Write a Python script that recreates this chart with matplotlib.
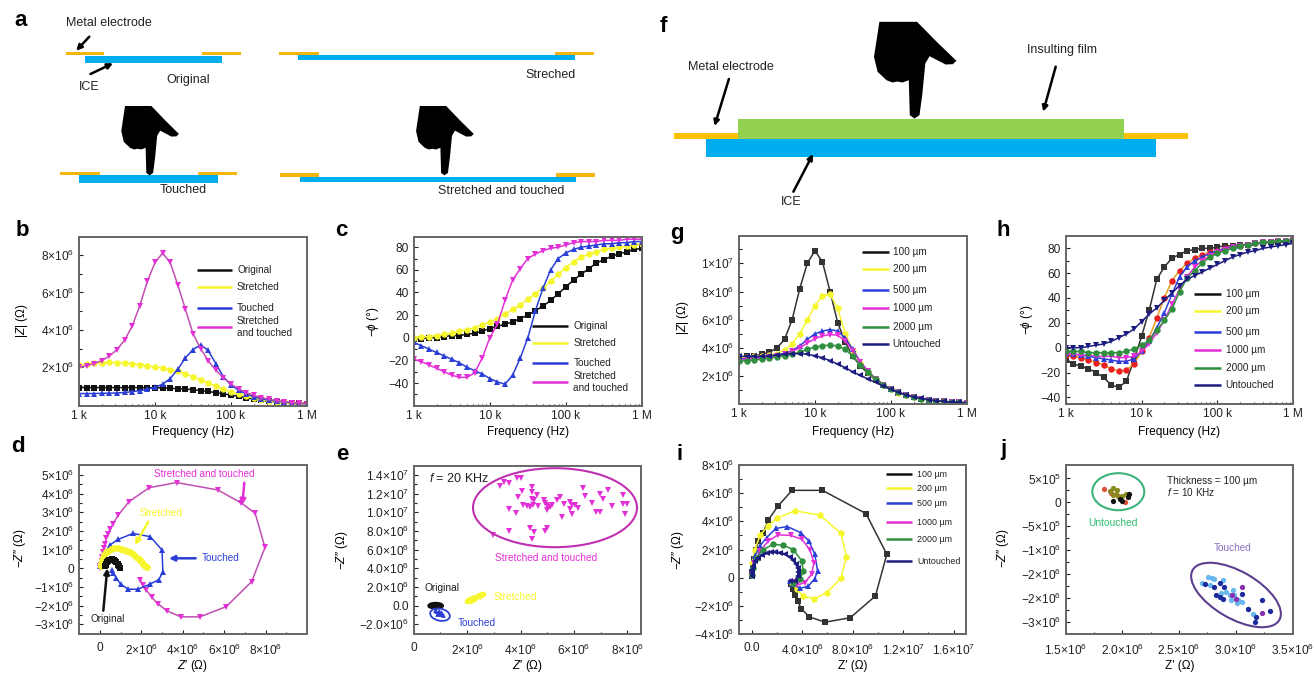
import matplotlib
matplotlib.use('Agg')
import matplotlib.pyplot as plt
from matplotlib.patches import Rectangle, Ellipse, Polygon

plt.rcParams['font.family'] = ['Liberation Sans', 'DejaVu Sans']
plt.rcParams['mathtext.fontset'] = 'custom'
plt.rcParams['mathtext.rm'] = 'Liberation Sans'
plt.rcParams['mathtext.it'] = 'Liberation Sans:italic'
plt.rcParams['mathtext.bf'] = 'Liberation Sans:bold'
plt.rcParams['mathtext.fallback'] = 'cm'

W, H = 1314, 673
BLACK, YELLOW, BLUE, MAGENTA, GREEN, NAVY = '#111111', '#f6f62e', '#2b3fd6', '#e32fd6', '#2f8f3f', '#1c1c80'
ORANGE, CYAN, SKY, FILM = '#f5b50f', '#00aeef', '#66b8ee', '#92d050'

freq = [1000, 1259, 1585, 1995, 2512, 3162, 3981, 5012, 6310, 7943, 10000, 12589, 15849, 19953, 25119, 31623,
        39811, 50119, 63096, 79433, 100000, 125893, 158489, 199526, 251189, 316228, 398107, 501187, 630957, 794328, 1000000]

# panel b: |Z| in units of 1e6 ohm
b_original = [.92,.92,.92,.92,.92,.92,.92,.92,.92,.91,.91,.90,.88,.86,.84,.80,.76,.71,.65,.58,.52,.45,.37,.30,.24,.19,.15,.12,.09,.07,.05]
b_stretched = [2.12,2.17,2.22,2.25,2.26,2.25,2.23,2.20,2.15,2.08,2.02,1.96,1.88,1.78,1.65,1.50,1.33,1.17,1.00,.84,.70,.57,.45,.36,.28,.22,.17,.13,.10,.08,.06]
b_touched = [.6,.6,.6,.61,.62,.63,.66,.70,.76,.83,.93,1.10,1.40,1.9,2.5,2.95,3.2,2.9,2.2,1.5,1.05,.78,.58,.43,.32,.25,.19,.15,.11,.08,.06]
b_both = [2.0,2.08,2.2,2.36,2.6,2.95,3.45,4.2,5.3,6.6,7.6,8.1,7.6,6.4,5.1,3.8,3.0,2.35,1.85,1.45,1.1,.85,.65,.5,.38,.29,.22,.16,.12,.09,.06]

# panel c: -phase in degrees
c_original = [-1,-1,0,0,1,2,2,3,4,6,8,10,12,14,17,20,24,28,33,39,45,51,56,61,66,69,72,74,76,78,79]
c_stretched = [0,1,1,2,3,4,6,7,9,11,14,17,21,25,29,34,39,44,50,56,62,67,71,74,76,78,79,80,81,82,83]
c_touched = [-4,-7,-10,-13,-16,-19,-22,-26,-29,-32,-36,-39,-41,-33,-18,0,24,44,60,70,75,78,80,81,82,83,83,84,84,85,85]
c_both = [-19,-21,-24,-27,-30,-33,-35,-35,-31,-18,0,12,33,51,61,70,74,77,79,80,82,84,85,85,85,86,86,86,87,87,87]

# panel g: |Z| in units of 1e6 ohm
g_100 = [3.35,3.4,3.45,3.55,3.7,4.0,4.6,6.0,8.2,10.0,10.9,10.1,8.0,5.8,4.4,3.4,2.7,2.2,1.7,1.35,1.05,.82,.65,.5,.4,.32,.25,.2,.16,.13,.1]
g_200 = [3.3,3.35,3.4,3.45,3.5,3.6,3.85,4.3,5.0,6.0,7.0,7.7,7.8,6.8,5.0,3.8,2.9,2.3,1.75,1.38,1.07,.83,.66,.51,.4,.32,.25,.2,.16,.13,.1]
g_500 = [3.2,3.25,3.3,3.35,3.4,3.5,3.6,3.8,4.15,4.6,5.0,5.2,5.3,5.2,4.7,3.9,3.0,2.35,1.8,1.4,1.08,.84,.66,.52,.41,.32,.25,.2,.16,.13,.1]
g_1000 = [3.15,3.2,3.25,3.3,3.35,3.45,3.55,3.75,4.0,4.35,4.65,4.85,4.95,4.9,4.5,3.8,3.0,2.35,1.8,1.4,1.08,.84,.66,.52,.41,.32,.25,.2,.16,.13,.1]
g_2000 = [3.05,3.1,3.15,3.2,3.3,3.35,3.45,3.55,3.7,3.9,4.05,4.15,4.2,4.15,3.9,3.4,2.8,2.3,1.8,1.4,1.08,.84,.66,.52,.41,.32,.25,.2,.16,.13,.1]
g_untouched = [3.4,3.4,3.4,3.4,3.45,3.5,3.55,3.6,3.6,3.55,3.45,3.3,3.1,2.85,2.6,2.3,2.05,1.8,1.55,1.3,1.05,.85,.68,.53,.42,.33,.26,.2,.16,.13,.1]

# panel h: -phase in degrees
h_100 = [-10,-13,-15,-17,-20,-24,-30,-32,-27,-10,9,30,55,65,72,75,78,79,80,80,81,82,82,83,83,84,84,85,85,85,86]
h_200 = [-6,-7,-8,-10,-12,-14,-17,-19,-18,-13,-3,8,24,40,54,62,68,72,75,77,78,80,81,82,83,84,85,85,86,86,87]
h_500 = [-4,-5,-6,-7,-8,-9,-10,-11,-11,-9,-3,5,16,28,43,57,65,70,73,76,78,80,81,82,83,84,85,85,86,86,87]
h_1000 = [-5,-5,-6,-6,-7,-7,-7,-8,-8,-7,-3,3,12,22,35,47,57,65,70,74,77,79,81,82,83,84,85,85,86,86,87]
h_2000 = [-3,-3,-3,-4,-4,-4,-4,-4,-3,-1,2,6,14,22,31,45,56,62,68,73,76,78,80,82,83,84,85,85,86,86,87]
h_untouched = [0,0,0,1,2,3,5,8,11,15,21,27,32,38,44,50,55,58,61,64,67,70,73,75,77,78,80,81,82,83,84]

# panel d: Nyquist, units of 1e6 ohm
d_both_x = [0,.02,.05,.08,.1,.15,.2,.25,.3,.38,.5,.64,.88,1.4,2.37,3.7,5.7,6.83,7.5,7.97,7.33,6.1,4.83,3.9,3.23,2.8,2.5,2.24,2.08,1.95]
d_both_y = [0,.1,.2,.4,.6,.9,1.1,1.3,1.6,1.85,2.1,2.4,2.85,3.57,4.32,4.6,4.2,3.5,2.95,1.12,-.71,-2.05,-2.6,-2.6,-2.27,-1.9,-1.55,-1.16,-.9,-.62]
d_touched_x = [.02,.08,.16,.29,.48,.88,1.6,2.43,3,3.04,2.85,2.43,1.84,1.36,1,.8,.64,.56]
d_touched_y = [.1,.35,.62,.9,1.25,1.55,1.87,1.7,.98,-.18,-.6,-.84,-1.12,-1.12,-.84,-.54,-.23,-.1]
d_stretched_x = [.05,.07,.1,.15,.2,.3,.4,.55,.7,.85,1,1.15,1.3,1.45,1.6,1.75,1.9,2.0,2.1,2.18,2.25]
d_stretched_y = [.1,.25,.4,.55,.7,.85,.95,1.03,1.08,1.08,1.05,1.01,.95,.86,.75,.63,.5,.38,.25,.15,.05]
d_original_x = [.25,.27,.3,.34,.38,.44,.5,.56,.62,.68,.75,.8,.85,.89,.93,.97]
d_original_y = [.1,.17,.25,.32,.38,.43,.47,.48,.47,.43,.38,.32,.25,.17,.1,0]

# panel i: Nyquist, units of 1e6 ohm
i_100_x = [0,.03,.1,.2,.35,.53,.92,1.32,2.1,3.2,5.6,9.05,10.7,9.8,7.8,5.8,4.56,3.93,3.64,3.43,3.25,3.1]
i_100_y = [.1,.4,.8,1.3,2.0,2.6,3.2,4.1,5.1,6.2,6.2,4.55,1.66,-1.3,-2.85,-3.16,-2.78,-2.2,-1.66,-1.2,-.83,-.47]
i_200_x = [0,.05,.26,.66,1.32,2.03,3.43,5.4,7.07,7.5,7.07,5.94,4.96,4.1,3.56,3.17]
i_200_y = [.2,1.07,2,3,3.7,4.23,4.75,4.44,3.16,1.5,-.05,-1.07,-1.5,-1.3,-.83,-.35]
i_500_x = [0,.05,.26,.66,1.19,1.93,2.82,3.88,4.54,5.0,5.22,5,4.49,3.83,3.3,3.03]
i_500_y = [.2,.7,1.54,2.25,2.85,3.5,3.63,3.2,2.6,1.66,.47,-.07,-.6,-.76,-.47,-.24]
i_1000_x = [0,.2,.66,1.32,2.1,3.09,3.96,4.6,4.93,4.75,4.2,3.6,3.17]
i_1000_y = [.2,1.07,1.9,2.6,3.04,3.0,2.73,2,1.07,.24,-.36,-.52,-.3]
i_2000_x = [0,.08,.4,.92,1.7,2.5,3.3,3.96,4.1,3.83,3.3]
i_2000_y = [.2,.7,1.43,2,2.37,2.3,2,1.2,.47,-.12,-.36]
i_untouched_x = [0,.02,.05,.13,.3,.53,.85,1.19,1.5,1.85,2.25,2.64,3.0,3.25,3.5,3.64,3.7,3.65,3.43,3.03]
i_untouched_y = [.1,.3,.55,.83,1.15,1.43,1.6,1.73,1.8,1.83,1.78,1.66,1.48,1.26,1,.71,.4,.12,-.24,-.24]

# panel e: scatter, units of 1e6 ohm
e_both_x = [3.23,3.38,3.55,3.88,4.01,4.07,3.92,4.42,4.44,4.61,4.42,4.51,4.11,4.23,4.36,4.48,4.67,4.86,4.92,4.98,5.04,4.98,5.11,5.17,5.36,5.48,5.61,5.86,5.92,6.04,6.17,6.35,6.42,6.69,6.98,7.10,7.29,7.42,7.83,7.85,7.98,7.92,6.98,6.83,5.86,5.92,5.57,3.55,3.82,3.55,4.36,4.51,4.42,4.92,4.98,2.98]
e_both_y = [12.86,13.21,13.11,13.64,13.71,12.29,11.68,12.68,12.14,11.86,11.39,11.32,10.79,10.68,10.61,10.79,10.68,11.32,10.96,10.79,10.61,10.25,10.61,10.79,11.32,11.61,10.86,11.14,10.79,10.79,10.5,12.64,11.79,10.96,11.96,11.39,12.39,10.68,11.86,10.86,10.89,9.82,10.07,10.07,10.32,9.82,9.54,10.36,9.89,8.04,8.36,7.93,7.18,8.04,8.29,7.57]
e_stretched_x = [2.0,2.05,2.1,2.12,2.18,2.2,2.25,2.3,2.35,2.4,2.45,2.5,2.55,2.58]
e_stretched_y = [.5,.6,.55,.7,.65,.8,.75,.9,.95,1.0,1.1,1.05,1.25,1.3]
e_original_x = [.6,.65,.7,.75,.8,.85,.9,.95,1.0]
e_original_y = [0,.05,.05,0,.05,0,.05,0,.05]
e_touched_x = [.8,.85,.9,.95,1.0,1.05,1.1,.88,.95,1.02]
e_touched_y = [-.5,-.6,-.7,-.8,-.85,-.95,-1.05,-.85,-.55,-.7]

# panel j: scatter, units of 1e6 ohm
j_un_red_x = [1.84,2.02,1.90,1.96]
j_un_red_y = [.27,0,.2,.14]
j_un_olive_x = [1.92,1.89,1.92,1.94,1.97,2.0,2.03,2.05,1.95]
j_un_olive_y = [.31,.23,.15,.18,.11,.14,.18,.14,.25]
j_un_black_x = [1.92,2.0,2.06,2.05,1.98]
j_un_black_y = [.02,.02,.17,.11,.06]
j_to_sky_x = [2.70,2.76,2.79,2.81,2.77,2.89,2.87,2.92,2.95,2.98,2.99,3.02,3.06,3.11,3.15,2.96,3.01]
j_to_sky_y = [-1.68,-1.56,-1.57,-1.61,-1.73,-1.63,-1.90,-1.87,-1.94,-1.83,-1.94,-2.04,-2.08,-2.22,-2.33,-2.04,-2.11]
j_to_navy_x = [2.73,2.81,2.83,2.86,2.90,2.86,3.06,3.11,3.18,3.17,3.23,3.30,2.89]
j_to_navy_y = [-1.71,-1.76,-1.94,-1.69,-1.76,-1.97,-1.92,-2.22,-2.39,-2.49,-2.03,-2.28,-2.01]
j_to_purple_x = [3.06,3.23,2.97,3.0]
j_to_purple_y = [-1.76,-2.32,-1.94,-2.02]

fig = plt.figure(figsize=(W / 100, H / 100), dpi=100)
FS = 8.6


def make_ax(left, right, top, bottom):
    ax = fig.add_axes([left / W, 1 - bottom / H, (right - left) / W, (bottom - top) / H])
    for s in ax.spines.values():
        s.set_color('#666666')
        s.set_linewidth(1.4)
    ax.tick_params(which='both', direction='in', colors='#222222', labelsize=FS, top=False, right=False, width=.8)
    ax.tick_params(which='major', length=3)
    ax.tick_params(which='minor', length=1.8)
    ax._box = (left, right, top, bottom)
    return ax


def labels(ax, xlabel, ylabel, xpx, ypx, label_y):
    l, r, t, b = ax._box
    ax.set_xlabel(xlabel, fontsize=FS, va='center')
    ax.set_ylabel(ylabel, fontsize=FS, va='center')
    ax.xaxis.set_label_coords(.5, (b - label_y) / (b - t))
    ax.yaxis.set_label_coords((xpx - l) / (r - l), (b - ypx) / (b - t))


def freq_ax(box, ylim, yticks, yticklabels, yminor, ylabel, xpx, ypx):
    ax = make_ax(*box)
    ax.set_xscale('log')
    ax.set_xlim(1e3, 1e6)
    ax.set_xticks([1e3, 1e4, 1e5, 1e6], ['1 k', '10 k', '100 k', '1 M'])
    ax.set_ylim(*ylim)
    ax.set_yticks(yticks, yticklabels)
    ax.set_yticks(yminor, minor=True)
    ax.tick_params(axis='x', pad=3)
    labels(ax, 'Frequency (Hz)', ylabel, xpx, ypx, 431.7)
    return ax


def curve(ax, x, y, color, marker, mcolor=None, lw=1.1, ms=4.6):
    ax.plot(x, y, color=color, lw=lw, marker=marker, ms=ms, mfc=mcolor or color, mec=mcolor or color, mew=0)


SUP = '×10$^{%d}$'
E6 = lambda v: f'{v}' + SUP % 6
ZX, ZY = '$\\mathit{Z}$′ (Ω)', '−$\\mathit{Z}$″ (Ω)'

# b
ax = freq_ax((79, 307, 237, 405.7), (-.05, 8.96), [2, 4, 6, 8], [E6(v) for v in (2, 4, 6, 8)], [1, 3, 5, 7],
             '|$\\mathit{Z}$| (Ω)', 22, 321)
curve(ax, freq, b_original, BLACK, 's')
curve(ax, freq, b_stretched, YELLOW, 'o')
curve(ax, freq, b_touched, BLUE, '^')
curve(ax, freq, b_both, '#c04fb0', 'v', MAGENTA)

# c
ax = freq_ax((413.7, 642, 237, 405.7), (-60, 89), [-40, -20, 0, 20, 40, 60, 80],
             ['−40', '−20', '0', '20', '40', '60', '80'], [-50, -30, -10, 10, 30, 50, 70], '$-\\phi$ (°)', 373, 322)
curve(ax, freq, c_original, BLACK, 's')
curve(ax, freq, c_stretched, YELLOW, 'o')
curve(ax, freq, c_touched, BLUE, '^')
curve(ax, freq, c_both, MAGENTA, 'v')

# g
ax = freq_ax((739, 966.7, 236, 404.3), (0, 11.94), [2, 4, 6, 8, 10], [E6(2), E6(4), E6(6), E6(8), '1' + SUP % 7],
             [1, 3, 5, 7, 9, 11], '|$\\mathit{Z}$| (Ω)', 683, 318)
curve(ax, freq, g_100, '#333333', 's')
curve(ax, freq, g_200, YELLOW, 'o')
curve(ax, freq, g_500, BLUE, '^')
curve(ax, freq, g_1000, MAGENTA, 'v')
curve(ax, freq, g_2000, GREEN, 'o')
curve(ax, freq, g_untouched, NAVY, '<')

# h
ax = freq_ax((1065.7, 1293.3, 236, 404.3), (-45.6, 89.9), [-40, -20, 0, 20, 40, 60, 80],
             ['−40', '−20', '0', '20', '40', '60', '80'], [-30, -10, 10, 30, 50, 70], '$-\\phi$ (°)', 1026.7, 320)
curve(ax, freq, h_100, '#333333', 's')
curve(ax, freq, h_200, '#e8a020', 'o', '#e82020')
curve(ax, freq, h_500, BLUE, '^')
curve(ax, freq, h_1000, MAGENTA, 'v')
curve(ax, freq, h_2000, GREEN, 'o')
curve(ax, freq, h_untouched, NAVY, 'v')

# d
ax = make_ax(79, 307, 465, 634)
ax.set_xlim(-1.01, 10)
ax.set_ylim(-3.52, 5.54)
ax.set_xticks([0, 2, 4, 6, 8], ['0'] + [E6(v) for v in (2, 4, 6, 8)])
ax.set_xticks([1, 3, 5, 7, 9], minor=True)
ax.set_yticks(range(-3, 6), ['−%d' % -v + SUP % 6 for v in (-3, -2, -1)] + ['0'] + [E6(v) for v in range(1, 6)])
ax.set_yticks([v + .5 for v in range(-3, 5)], minor=True)
ax.tick_params(axis='x', pad=6)
labels(ax, ZX, ZY, 20, 548, 666)
curve(ax, d_both_x, d_both_y, '#c04fb0', 'v', MAGENTA)
curve(ax, d_touched_x, d_touched_y, BLUE, '^')
curve(ax, d_stretched_x, d_stretched_y, YELLOW, 'o', lw=1.5, ms=5)
curve(ax, d_original_x, d_original_y, BLACK, 's', lw=1.5, ms=4.5)

# e
ax = make_ax(413.7, 641, 466, 634)
ax.set_xlim(0, 8.51)
ax.set_ylim(-3.04, 14.965)
ax.set_xticks([0, 2, 4, 6, 8], ['0'] + [E6(v) for v in (2, 4, 6, 8)])
ax.set_xticks([1, 3, 5, 7], minor=True)
ax.set_yticks([-2, 0, 2, 4, 6, 8, 10, 12, 14],
              ['−2.0' + SUP % 6, '0.0', '2.0' + SUP % 6, '4.0' + SUP % 6, '6.0' + SUP % 6, '8.0' + SUP % 6,
               '1.0' + SUP % 7, '1.2' + SUP % 7, '1.4' + SUP % 7])
ax.set_yticks([-1, 1, 3, 5, 7, 9, 11, 13], minor=True)
ax.tick_params(axis='x', pad=6)
labels(ax, ZX, ZY, 342, 550, 666)
ax.plot(e_both_x, e_both_y, ls='', marker='v', ms=4, color=MAGENTA, mew=0)
ax.plot(e_stretched_x, e_stretched_y, ls='', marker='o', ms=4, color=YELLOW, mew=0)
ax.plot(e_original_x, e_original_y, ls='', marker='s', ms=3.4, color=BLACK, mew=0)
ax.plot(e_touched_x, e_touched_y, ls='', marker='^', ms=3.4, color=BLUE, mew=0)

# i
ax = make_ax(739, 966, 465, 634)
ax.set_xlim(-1, 16.97)
ax.set_ylim(-4, 8)
ax.set_xticks([0, 4, 8, 12, 16], ['0.0', '4.0' + SUP % 6, '8.0' + SUP % 6, '1.2' + SUP % 7, '1.6' + SUP % 7])
ax.set_xticks([2, 6, 10, 14], minor=True)
ax.set_yticks([-4, -2, 0, 2, 4, 6, 8], ['−4' + SUP % 6, '−2' + SUP % 6, '0', E6(2), E6(4), E6(6), E6(8)])
ax.set_yticks([-3, -1, 1, 3, 5, 7], minor=True)
ax.tick_params(axis='x', pad=6)
labels(ax, 'Z′ (Ω)', ZY, 678, 550, 666)
curve(ax, i_100_x, i_100_y, '#333333', 's')
curve(ax, i_200_x, i_200_y, YELLOW, 'o')
curve(ax, i_500_x, i_500_y, BLUE, '^')
curve(ax, i_1000_x, i_1000_y, MAGENTA, 'v')
curve(ax, i_2000_x, i_2000_y, GREEN, 'o')
curve(ax, i_untouched_x, i_untouched_y, NAVY, '<', lw=1.5, ms=5)

# j
ax = make_ax(1065.7, 1293.3, 465, 634)
ax.set_xlim(1.5, 3.51)
ax.set_ylim(-2.75, .78)
ax.set_xticks([1.5, 2, 2.5, 3, 3.5], ['1.5' + SUP % 6, '2.0' + SUP % 6, '2.5' + SUP % 6, '3.0' + SUP % 6, '3.5' + SUP % 6])
ax.set_xticks([1.75, 2.25, 2.75, 3.25], minor=True)
ax.set_yticks([.5, 0, -.5, -1, -1.5, -2, -2.5],
              ['5' + SUP % 5, '0', '−5' + SUP % 5, '−1' + SUP % 6, '−2' + SUP % 6, '−2' + SUP % 6, '−3' + SUP % 6])
ax.set_yticks([.25, -.25, -.75, -1.25, -1.75, -2.25], minor=True)
ax.tick_params(axis='x', pad=6)
labels(ax, 'Z′ (Ω)', ZY, 1003, 548, 666)
for xs, ys, col in ((j_un_red_x, j_un_red_y, '#e0503a'), (j_un_olive_x, j_un_olive_y, '#8a8a20'),
                    (j_un_black_x, j_un_black_y, '#111111'), (j_to_sky_x, j_to_sky_y, SKY),
                    (j_to_navy_x, j_to_navy_y, '#1c2a9c'), (j_to_purple_x, j_to_purple_y, '#8a2fb0')):
    ax.plot(xs, ys, ls='', marker='o', ms=3.8, color=col, mew=0)

# overlay in figure pixels for schematics and annotations
ov = fig.add_axes([0, 0, 1, 1], zorder=10)
ov.set_xlim(0, W)
ov.set_ylim(H, 0)
ov.axis('off')
ov.patch.set_alpha(0)


def rect(x0, x1, y0, y1, color):
    ov.add_patch(Rectangle((x0, y0), x1 - x0, y1 - y0, color=color, lw=0))


def txt(x, y, s, size=7.2, color='#222222', ha='left', **kw):
    ov.text(x, y, s, fontsize=size, color=color, ha=ha, va='center', **kw)


def arrow(x0, y0, x1, y1, color='black', lw=1.8, ms=8):
    ov.annotate('', xy=(x1, y1), xytext=(x0, y0),
                arrowprops=dict(arrowstyle='-|>', color=color, lw=lw, mutation_scale=ms, shrinkA=0, shrinkB=0))


HAND = [(-35.1, -96.7), (2.5, -96.7), (22.2, -76.7), (41.9, -57.7), (38.3, -54.3), (31.1, -54), (15.1, -62.3),
        (10.8, -55), (7.9, -25), (5, -3.3), (0, 0), (-4.7, -3.3), (-5.7, -38.3), (-12, -36), (-17.2, -37), (-22, -36),
        (-28, -38.3), (-36.9, -46.7), (-40.5, -61.7)]


def hand(x, y, sx, sy):
    ov.add_patch(Polygon([(x + a * sx, y + b * sy) for a, b in HAND], closed=True, color='black', lw=0, joinstyle='round'))


# a
for yb0, yb1, ye0, ye1, bx0, bx1, e1, e2, e3, e4 in (
        (56, 63.3, 51.7, 55, 84.5, 222, 65.5, 104, 202.4, 240.9),
        (55, 60, 51.7, 55, 298.4, 575.4, 279, 318.7, 554.8, 594.4),
        (175.3, 183.3, 171.7, 175.3, 79.4, 217.5, 60.3, 100, 197.6, 236.9),
        (177.3, 182.3, 173.3, 177.3, 299.6, 576.2, 279.8, 319.4, 555.6, 595.2)):
    rect(e1, e2, ye0, ye1, ORANGE)
    rect(e3, e4, ye0, ye1, ORANGE)
    rect(bx0, bx1, yb0, yb1, CYAN)
hand(149.6, 175.3, .70, .717)
hand(444.4, 175.3, .70, .717)
txt(65.5, 22.7, 'Metal electrode', 9)
txt(78.6, 86.7, 'ICE', 9)
txt(165.9, 80, 'Original', 9)
txt(525, 75, 'Streched', 9)
txt(160, 190, 'Touched', 9)
txt(438.5, 191, 'Stretched and touched', 9)
arrow(89.3, 36.7, 76.2, 50.7)
arrow(90.5, 74, 113, 63.3)

# f
rect(674, 1187.6, 133.3, 138.7, '#ffc000')
rect(737.8, 1123.8, 119.3, 138.7, FILM)
rect(705.6, 1156, 138.7, 156.7, CYAN)
hand(914.5, 118.5, 1, 1)
txt(687.6, 66.7, 'Metal electrode', 9)
txt(1027.4, 50, 'Insulting film', 9)
txt(780.8, 202, 'ICE', 9)
arrow(728.9, 79, 714.5, 126)
arrow(1055.7, 66.7, 1043.2, 111.7)
arrow(793.4, 191.7, 813, 154)


# legends
def legend(x0, x1, xt, rows, size=7.2):
    for y, col, s, ty in rows:
        ov.plot([x0, x1], [y, y], color=col, lw=1.8, solid_capstyle='butt')
        if isinstance(s, str):
            txt(xt, ty if ty else y, s, size)
        else:
            for line, yy in zip(s, ty):
                txt(xt, yy, line, size)


legend(196.7, 232.3, 237, [(270, BLACK, 'Original', 0), (287.3, YELLOW, 'Stretched', 0), (308.3, BLUE, 'Touched', 0),
                           (327.3, MAGENTA, ('Stretched', 'and touched'), (320.7, 332.7))])
legend(531.7, 568.3, 573.3, [(325.7, BLACK, 'Original', 0), (342.7, YELLOW, 'Stretched', 0), (363, BLUE, 'Touched', 0),
                             (382.3, MAGENTA, ('Stretched', 'and touched'), (375.7, 387.7))])
legend(861.7, 889, 892.7, [(251.7, BLACK, '100 µm', 0), (268.7, YELLOW, '200 µm', 0), (290, BLUE, '500 µm', 0),
                           (307.7, MAGENTA, '1000 µm', 0), (326.7, GREEN, '2000 µm', 0), (343.7, NAVY, 'Untouched', 0)])
legend(1194.3, 1221, 1225.7, [(294, BLACK, '100 µm', 0), (310.7, YELLOW, '200 µm', 0), (331.7, BLUE, '500 µm', 0),
                              (350, MAGENTA, '1000 µm', 0), (367.7, GREEN, '2000 µm', 0), (385, NAVY, 'Untouched', 0)])
legend(885.7, 912.3, 917.3, [(474.3, BLACK, '100 µm', 0), (488.3, YELLOW, '200 µm', 0), (503.3, BLUE, '500 µm', 0),
                             (522.3, MAGENTA, '1000 µm', 0), (539, GREEN, '2000 µm', 0), (561, NAVY, 'Untouched', 0)], 6.4)

# d annotations
txt(204.7, 474.3, 'Stretched and touched', 7.2, MAGENTA, 'center')
txt(161, 512.7, 'Stretched', 7.2, YELLOW, 'center')
txt(220.7, 558.3, 'Touched', 7.2, BLUE, 'center')
txt(107.3, 619.3, 'Original', 7.2, '#222222', 'center')
arrow(244.3, 482.7, 242.3, 505, MAGENTA)
arrow(148.3, 521.7, 135, 545, YELLOW)
arrow(195.7, 558.3, 169, 558.3, BLUE)
arrow(103.3, 610.7, 107.3, 568.3, BLACK)

# e annotations
txt(429, 479, '$\\mathit{f}$ = 20 KHz', 9)
txt(546, 558.3, 'Stretched and touched', 7.3, MAGENTA, 'center')
txt(515, 596.7, 'Stretched', 7.3, YELLOW, 'center')
txt(477.3, 622.7, 'Touched', 7.3, BLUE, 'center')
txt(442.3, 587.7, 'Original', 7.3, '#222222', 'center')
for cx, cy, w, h, ang, col, lw in ((555, 507.7, 164, 79, 0, '#c030b0', 1.5), (435.7, 605.7, 15, 6, 0, BLACK, 1.3),
                                   (440, 614.7, 20, 12, 12, BLUE, 1.3),
                                   (1118.3, 491.7, 52, 37, 0, '#3cb37a', 1.5), (1236, 595, 100, 47, 30, '#5c3f8f', 1.5)):
    ov.add_patch(Ellipse((cx, cy), w, h, angle=ang, fill=False, ec=col, lw=lw))

# j annotations
txt(1167.3, 480.7, 'Thickness = 100 µm', 7.2)
txt(1167.3, 492.3, '$\\mathit{f}$ = 10 KHz', 7.2)
txt(1112.7, 522.7, 'Untouched', 7.4, '#2fc070', 'center')
txt(1232.7, 548.3, 'Touched', 7.2, '#8a6fc0', 'center')

# panel letters
for s, x, y in (('a', 14, 21), ('b', 16, 230), ('c', 335, 231), ('d', 11, 447), ('e', 336, 455), ('f', 660, 27),
                ('g', 670, 233), ('h', 997, 231), ('i', 676, 455), ('j', 1000, 450)):
    txt(x, y, s, 16, 'black', fontweight='bold')

fig.savefig('out.png', dpi=100)
